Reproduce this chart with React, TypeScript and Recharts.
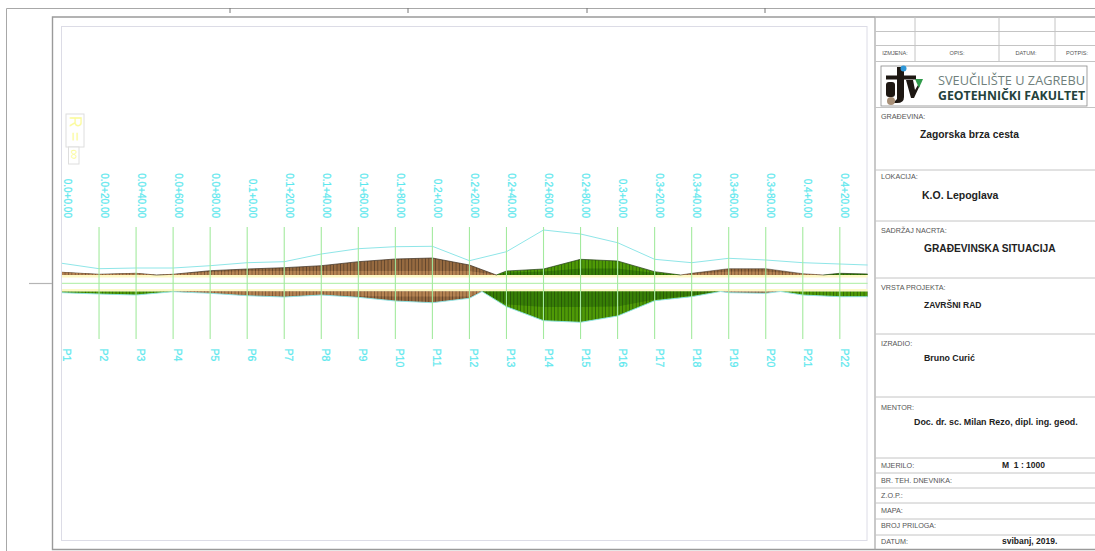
import React from "react";
import { ComposedChart, Area, Line, XAxis, YAxis, ReferenceArea, ReferenceLine } from "recharts";

const stationChainage = [0, 20, 40, 60, 80, 100, 120, 140, 160, 180, 200, 220, 240, 260, 280, 300, 320, 340, 360, 380, 400, 420];
const stationNames = ["P1", "P2", "P3", "P4", "P5", "P6", "P7", "P8", "P9", "P10", "P11", "P12", "P13", "P14", "P15", "P16", "P17", "P18", "P19", "P20", "P21", "P22"];
const stationLabels = ["0.0+0.00", "0.0+20.00", "0.0+40.00", "0.0+60.00", "0.0+80.00", "0.1+0.00", "0.1+20.00", "0.1+40.00", "0.1+60.00", "0.1+80.00", "0.2+0.00", "0.2+20.00", "0.2+40.00", "0.2+60.00", "0.2+80.00", "0.3+0.00", "0.3+20.00", "0.3+40.00", "0.3+60.00", "0.3+80.00", "0.4+0.00", "0.4+20.00"];

const terrainX = [0, 20, 40, 60, 80, 100, 120, 140, 160, 180, 200, 220, 240, 260, 280, 300, 320, 340, 360, 380, 400, 420, 435];
const terrainY = [20.2, 14.8, 15.5, 15.5, 17.8, 20.8, 21.8, 29.5, 34.8, 36.8, 37.2, 22.8, 31.8, 53.5, 49.5, 40.8, 24.2, 20.8, 25.2, 23.5, 20.8, 19.5, 18.5];

const upBrownX = [0, 20, 40, 51, 60, 80, 100, 120, 140, 160, 180, 200, 220, 234.5];
const upBrownY = [11.2, 9.2, 10.2, 8.5, 9.2, 12.8, 14.5, 15.8, 17.8, 21.8, 24.5, 25.5, 18.5, 8.5];
const upBrownCore = [11.2, 9.2, 10.2, 8.5, 9.2, 11.5, 12.5, 12.5, 12.5, 12.5, 12.5, 12.5, 12.5, 8.5];
const upGreenX = [234.5, 240, 260, 280, 300, 320, 334];
const upGreenY = [8.5, 12.5, 14.5, 24.2, 22.5, 11.8, 8.5];
const upGreenCore = [8.5, 11, 12, 15, 15, 10.5, 8.5];
const upBrown2X = [334, 340, 360, 380, 400, 411];
const upBrown2Y = [8.5, 10.2, 14.8, 14.8, 9.8, 8.5];
const upBrown2Core = [8.5, 9.6, 12, 12, 9.4, 8.5];
const upTailX = [411, 420, 435];
const upTailY = [8.5, 10.2, 9.5];

const lowGreen1X = [0, 20, 40, 60];
const lowGreen1Y = [-9.2, -10.5, -11.5, -8.2];
const lowBrownX = [60, 80, 100, 120, 140, 160, 180, 200, 220, 226.8];
const lowBrownY = [-8.2, -9.8, -12.2, -13.5, -11.5, -13.8, -17.5, -19.2, -14.8, -8];
const lowBrownCore = [-8.2, -9.6, -11.5, -12.5, -11, -12.5, -13, -13, -13, -8];
const lowGreen2X = [226.8, 240, 260, 280, 300, 320, 340, 355.6];
const lowGreen2Y = [-8, -23.2, -37.2, -38.8, -32.5, -17.2, -13.2, -8];
const lowGreen2Core = [-8, -21, -23.5, -23.5, -23, -16, -12, -8];
const lowBrown2X = [355.6, 360, 380, 388];
const lowBrown2Y = [-8, -9.2, -9.8, -8];
const lowGreen3X = [388, 400, 420, 435];
const lowGreen3Y = [-8, -11.5, -13.2, -13.2];

const sectionTop = 56.5;
const sectionBottom = -55.5;

const titleRows = [
  ["GRAĐEVINA:", 119], ["LOKACIJA:", 179], ["SADRŽAJ NACRTA:", 233], ["VRSTA PROJEKTA:", 290], ["IZRADIO:", 346], ["MENTOR:", 410],
  ["MJERILO:", 468], ["BR. TEH. DNEVNIKA:", 483], ["Z.O.P.:", 498], ["MAPA:", 513], ["BROJ PRILOGA:", 528], ["DATUM:", 544],
] as [string, number][];
const titleValues = [
  ["Zagorska brza cesta", 920, 138, 10.3],
  ["K.O. Lepoglava", 922, 199, 10.5],
  ["GRAĐEVINSKA SITUACIJA", 924, 252, 10.2],
  ["ZAVRŠNI RAD", 924, 308, 8.5],
  ["Bruno Curić", 924, 361, 8.8],
  ["Doc. dr. sc. Milan Rezo, dipl. ing. geod.", 914, 425, 8.9],
  ["M  1 : 1000", 1002, 468, 8.5],
  ["svibanj, 2019.", 1002, 544, 8.5],
] as [string, number, number, number][];
const revisionHeads = [["IZMJENA:", 895], ["OPIS:", 957], ["DATUM:", 1026], ["POTPIS:", 1077]] as [string, number][];
const blockLines = [17, 31.5, 45.5, 61.5, 107.5, 170, 221, 278, 334, 397, 458, 473, 488, 503, 519, 535];
const revisionCols = [915, 999, 1055];
const sheetTicks = [230, 408, 587, 765];

const pts = (xs: number[], ys: number[]) => xs.map((x, i) => ({ x, v: ys[i] }));

const lowerEdge = [
  ...pts(lowGreen1X, lowGreen1Y),
  ...pts(lowBrownX, lowBrownY).slice(1),
  ...pts(lowGreen2X, lowGreen2Y).slice(1),
  ...pts(lowBrown2X, lowBrown2Y).slice(1),
  ...pts(lowGreen3X, lowGreen3Y).slice(1),
];

const FONT = "'Liberation Sans', Arial, sans-serif";
const CYAN = "#5de8ee";

const TopTick = (p: any) => (
  <text
    transform={`translate(${p.x + 5},218) rotate(90)`}
    textAnchor="end"
    dominantBaseline="central"
    fontSize={10}
    fontFamily={FONT}
    fill={CYAN}
    stroke={CYAN}
    strokeWidth={0.25}
  >
    {stationLabels[stationChainage.indexOf(p.payload.value)]}
  </text>
);
const BottomTick = (p: any) => (
  <text
    transform={`translate(${p.x + 5},348.5) rotate(90)`}
    textAnchor="start"
    dominantBaseline="central"
    fontSize={10.6}
    fontFamily={FONT}
    fill={CYAN}
    stroke={CYAN}
    strokeWidth={0.25}
  >
    {stationNames[stationChainage.indexOf(p.payload.value)]}
  </text>
);

const Stripe = ({ id, bg, fg }: { id: string; bg: string; fg: string }) => (
  <pattern id={id} width={3.4} height={4} patternUnits="userSpaceOnUse">
    <rect width={3.4} height={4} fill={bg} />
    <rect width={0.8} height={4} fill={fg} />
  </pattern>
);

const Sheet = () => (
  <svg width={1095} height={551} style={{ position: "absolute", left: 0, top: 0 }} fontFamily={FONT}>
    <rect width={1095} height={551} fill="#fff" />
    <path d="M6.5 551V8.5H1095" fill="none" stroke="#a8a8a8" strokeWidth={1} />
    {sheetTicks.map((x) => (
      <line key={x} x1={x} x2={x} y1={8} y2={13} stroke="#777" strokeWidth={1} />
    ))}
    <path d="M1095 17H52.5V549.5H1095" fill="none" stroke="#9a9a9a" strokeWidth={1.4} />
    <line x1={29} x2={52} y1={283.5} y2={283.5} stroke="#b5b5b5" strokeWidth={1.2} />
    <rect x={61.5} y={26.5} width={805.5} height={514} fill="none" stroke="#dcdce6" strokeWidth={1} />
    <line x1={875} x2={875} y1={17} y2={549.5} stroke="#a5a5a5" strokeWidth={1.2} />
    {blockLines.map((y) => (
      <line key={y} x1={875} x2={1095} y1={y} y2={y} stroke="#c4c4c4" strokeWidth={1} />
    ))}
    {revisionCols.map((x) => (
      <line key={x} x1={x} x2={x} y1={17} y2={61.5} stroke="#c4c4c4" strokeWidth={1} />
    ))}
    {revisionHeads.map(([t, x]) => (
      <text key={t} x={x} y={55} fontSize={5.6} fill="#555" textAnchor="middle">{t}</text>
    ))}
    <rect x={881} y={66} width={206} height={40} fill="#fff" stroke="#8a8a8a" strokeWidth={0.8} />
    <rect x={886} y={75.5} width={30} height={4} fill="#1d1712" />
    <path d="M897 67h7v30q0 6-7 6h-4l4-4z" fill="#1d1712" />
    <rect x={886} y={82} width={9} height={15} rx={3} fill="#1d1712" />
    <path d="M906 80h7l2 10 3-5 2 0-6 13h-3z" fill="#1d1712" />
    <circle cx={903.5} cy={68.5} r={3} fill="#2f97d8" />
    <path d="M915 79h8l-4 9z" fill="#2f9a4a" />
    <circle cx={891} cy={101} r={4} fill="#a89078" />
    <text x={938} y={85} fontSize={12.5} fontFamily="'Open Sans', sans-serif" fill="#6f7f7c" textLength={147} lengthAdjust="spacingAndGlyphs">SVEUČILIŠTE U ZAGREBU</text>
    <text x={938} y={100} fontSize={12.5} fontWeight={700} fontFamily="'Open Sans', sans-serif" fill="#24423c" textLength={147} lengthAdjust="spacingAndGlyphs">GEOTEHNIČKI FAKULTET</text>
    {titleRows.map(([t, y]) => (
      <text key={t} x={881} y={y} fontSize={7.2} fill="#555">{t}</text>
    ))}
    {titleValues.map(([t, x, y, s]) => (
      <text key={t} x={x} y={y} fontSize={s} fontWeight={700} fill="#222" style={{ whiteSpace: "pre" }}>{t}</text>
    ))}
    <rect x={66} y={114} width={18} height={33} fill="#fff" stroke="#dedede" />
    <rect x={68.5} y={147} width={10.5} height={17} fill="#fff" stroke="#dedede" />
    <text transform="translate(70,116) rotate(90)" fontSize={16} fill="#fbfba0">R =</text>
    <text transform="translate(70,149) rotate(90)" fontSize={14} fill="#fbfba0">∞</text>
  </svg>
);

export default function App() {
  return (
    <div style={{ position: "absolute", left: 0, top: 0, width: 1095, height: 551, overflow: "hidden", background: "#fff" }}>
      <Sheet />
      <div style={{ position: "absolute", left: 0, top: 0 }}>
        <ComposedChart
          width={1095}
          height={551}
          margin={{ left: 62, right: 227.4, top: 172, bottom: 176 }}
          data={pts(terrainX, terrainY)}
        >
          <defs>
            <Stripe id="brownMain" bg="#966a40" fg="#5a4029" />
            <Stripe id="brownCore" bg="#b58352" fg="#7a5433" />
            <Stripe id="greenMain" bg="#4f9a06" fg="#2a5f08" />
            <Stripe id="greenCore" bg="#377f05" fg="#235207" />
          </defs>
          <XAxis xAxisId="top" orientation="top" type="number" dataKey="x" domain={[0, 435]} ticks={stationChainage} interval={0} axisLine={false} tickLine={false} height={50} tick={TopTick} />
          <XAxis xAxisId="bottom" orientation="bottom" type="number" dataKey="x" domain={[0, 435]} ticks={stationChainage} interval={0} axisLine={false} tickLine={false} height={30} tick={BottomTick} />
          <YAxis hide type="number" domain={[-61.5, 61.5]} />
          <ReferenceArea xAxisId="top" y1={8.5} y2={6} fill="#fdf8c4" fillOpacity={1} stroke="none" />
          <ReferenceArea xAxisId="top" y1={-5.5} y2={-8} fill="#fdf8c4" fillOpacity={1} stroke="none" />
          <ReferenceLine xAxisId="top" y={0.2} stroke="#a9eda0" strokeWidth={1} />
          <Area xAxisId="top" data={pts(upBrownX, upBrownY)} dataKey="v" baseValue={8.5} type="linear" fill="url(#brownMain)" fillOpacity={1} stroke="#3b2c1e" strokeWidth={0.7} dot={false} activeDot={false} isAnimationActive={false} />
          <Area xAxisId="top" data={pts(upBrownX, upBrownCore)} dataKey="v" baseValue={8.5} type="linear" fill="url(#brownCore)" fillOpacity={1} stroke="none" dot={false} activeDot={false} isAnimationActive={false} />
          <Area xAxisId="top" data={pts(upGreenX, upGreenY)} dataKey="v" baseValue={8.5} type="linear" fill="url(#greenMain)" fillOpacity={1} stroke="#27401a" strokeWidth={0.7} dot={false} activeDot={false} isAnimationActive={false} />
          <Area xAxisId="top" data={pts(upGreenX, upGreenCore)} dataKey="v" baseValue={8.5} type="linear" fill="url(#greenCore)" fillOpacity={1} stroke="none" dot={false} activeDot={false} isAnimationActive={false} />
          <Area xAxisId="top" data={pts(upBrown2X, upBrown2Y)} dataKey="v" baseValue={8.5} type="linear" fill="url(#brownMain)" fillOpacity={1} stroke="#3b2c1e" strokeWidth={0.5} dot={false} activeDot={false} isAnimationActive={false} />
          <Area xAxisId="top" data={pts(upBrown2X, upBrown2Core)} dataKey="v" baseValue={8.5} type="linear" fill="url(#brownCore)" fillOpacity={1} stroke="none" dot={false} activeDot={false} isAnimationActive={false} />
          <Area xAxisId="top" data={pts(upTailX, upTailY)} dataKey="v" baseValue={8.5} type="linear" fill="url(#greenCore)" fillOpacity={1} stroke="#27401a" strokeWidth={0.7} dot={false} activeDot={false} isAnimationActive={false} />
          <Area xAxisId="top" data={pts(lowGreen1X, lowGreen1Y)} dataKey="v" baseValue={-8} type="linear" fill="url(#greenMain)" fillOpacity={1} stroke="none" dot={false} activeDot={false} isAnimationActive={false} />
          <Area xAxisId="top" data={pts(lowBrownX, lowBrownY)} dataKey="v" baseValue={-8} type="linear" fill="url(#brownMain)" fillOpacity={1} stroke="none" dot={false} activeDot={false} isAnimationActive={false} />
          <Area xAxisId="top" data={pts(lowBrownX, lowBrownCore)} dataKey="v" baseValue={-8} type="linear" fill="url(#brownCore)" fillOpacity={1} stroke="none" dot={false} activeDot={false} isAnimationActive={false} />
          <Area xAxisId="top" data={pts(lowGreen2X, lowGreen2Y)} dataKey="v" baseValue={-8} type="linear" fill="url(#greenMain)" fillOpacity={1} stroke="none" dot={false} activeDot={false} isAnimationActive={false} />
          <Area xAxisId="top" data={pts(lowGreen2X, lowGreen2Core)} dataKey="v" baseValue={-8} type="linear" fill="url(#greenCore)" fillOpacity={1} stroke="none" dot={false} activeDot={false} isAnimationActive={false} />
          <Area xAxisId="top" data={pts(lowBrown2X, lowBrown2Y)} dataKey="v" baseValue={-8} type="linear" fill="url(#brownMain)" fillOpacity={1} stroke="none" dot={false} activeDot={false} isAnimationActive={false} />
          <Area xAxisId="top" data={pts(lowGreen3X, lowGreen3Y)} dataKey="v" baseValue={-8} type="linear" fill="url(#greenMain)" fillOpacity={1} stroke="none" dot={false} activeDot={false} isAnimationActive={false} />
          <Line xAxisId="top" data={pts(terrainX, terrainY)} dataKey="v" type="linear" stroke="#8fe6e8" strokeWidth={1} dot={false} activeDot={false} isAnimationActive={false} />
          <Line xAxisId="top" data={lowerEdge} dataKey="v" type="linear" stroke="#8fe6e8" strokeWidth={0.9} dot={false} activeDot={false} isAnimationActive={false} />
          {stationChainage.slice(1).map((x) => (
            <ReferenceLine
              key={x}
              xAxisId="top"
              segment={[{ x, y: sectionTop }, { x, y: sectionBottom }]}
              stroke="#a3ea9e"
              strokeWidth={1.1}
            />
          ))}
        </ComposedChart>
      </div>
    </div>
  );
}
